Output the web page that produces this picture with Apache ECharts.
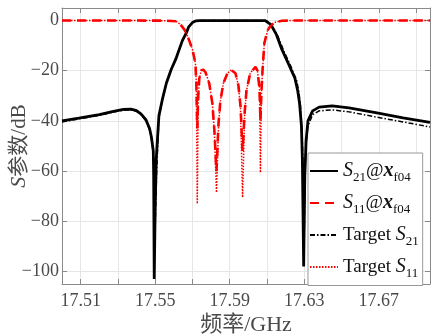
<!DOCTYPE html>
<html><head><meta charset="utf-8">
<script src="https://cdn.jsdelivr.net/npm/echarts@6/dist/echarts.min.js"></script>
<style>html,body{margin:0;padding:0;background:#fff}#c{width:431px;height:336px}</style>
</head><body><div id="c"></div><script>
// ---- tick values ----
const xGridValues = [17.51,17.53,17.55,17.57,17.59,17.61,17.63,17.65,17.67,17.69];
const xLabelValues = [17.51,17.55,17.59,17.63,17.67];
const yTickValues = [-100,-80,-60,-40,-20,0];

// ---- S21 @ x_f04 (solid black) ----
const s21Freq = [17.500,17.509,17.520,17.527,17.533,17.537,17.540,17.5425,17.545,17.547,17.548,17.549,17.5492,17.5495,17.550,17.5506,17.552,17.554,17.556,17.5586,17.561,17.5646,17.567,17.568,17.570,17.572,17.5737,17.590,17.609,17.610,17.612,17.6135,17.615,17.618,17.622,17.625,17.6265,17.6275,17.6285,17.629,17.6297,17.6303,17.631,17.632,17.6345,17.638,17.645,17.654,17.669,17.683,17.6975];
const s21Db   = [-40.0,-38.9,-37.5,-36.3,-35.4,-35.3,-35.9,-37.3,-39.5,-43,-46.5,-52,-62,-103,-75,-55,-38,-31,-25,-19.5,-15.5,-8,-4.5,-2.5,-0.8,-0.1,0,0,0,-0.3,-1.5,-3.5,-5.5,-11.5,-18,-23,-28,-33,-42,-55,-98,-62,-48,-40,-36,-34.5,-34,-34.8,-36.8,-38.8,-40.6];

// ---- S11 @ x_f04 (dashed red) ----
const s11Freq = [17.500,17.540,17.556,17.5613,17.5635,17.5656,17.5667,17.5683,17.570,17.5716,17.5721,17.5726,17.5731,17.5737,17.5748,17.5759,17.577,17.579,17.5807,17.5818,17.5829,17.584,17.585,17.5866,17.5888,17.591,17.5931,17.5947,17.5958,17.5969,17.598,17.599,17.601,17.6038,17.6049,17.606,17.6065,17.607,17.6076,17.6086,17.6103,17.612,17.6146,17.618,17.622,17.6975];
const s11Db   = [0,0,-0.05,-0.3,-1.5,-3.5,-5,-8,-11.5,-17,-25,-43,-30,-23,-19.8,-19.6,-20.6,-25,-33,-44,-60,-41,-32,-25,-21,-19.8,-21,-26,-34,-52,-37,-28,-21,-18.5,-20,-27,-40,-29,-20,-9,-4,-2,-0.6,-0.1,0,0];

// ---- Target S21 (dash-dot black) ----
const t21Freq = [17.500,17.509,17.520,17.527,17.533,17.537,17.540,17.5425,17.545,17.547,17.548,17.549,17.5494,17.5500,17.5508,17.552,17.554,17.556,17.5586,17.561,17.5646,17.567,17.568,17.570,17.572,17.5737,17.590,17.6095,17.611,17.613,17.6145,17.616,17.619,17.623,17.626,17.6272,17.628,17.6288,17.6293,17.6299,17.6305,17.631,17.632,17.6345,17.638,17.645,17.654,17.669,17.683,17.6975];
const t21Db   = [-40.4,-39.2,-37.8,-36.6,-35.7,-35.6,-36.2,-37.6,-39.9,-43.5,-47,-53,-63,-83,-60,-39,-31,-25,-19.5,-15.5,-8,-4.5,-2.5,-0.8,-0.1,0,0,0,-0.6,-2.5,-4.2,-6.5,-12,-18.5,-24,-29,-34,-44,-56,-91,-60,-49,-42,-37.5,-36,-35.6,-36.4,-38.5,-40.4,-42.4];

// ---- Target S11 (dotted red) ----
const t11Freq = [17.500,17.540,17.556,17.5613,17.5635,17.5656,17.5667,17.5683,17.570,17.5716,17.5721,17.5726,17.5731,17.5737,17.5748,17.5759,17.577,17.579,17.5807,17.5818,17.5829,17.584,17.585,17.5866,17.5888,17.591,17.5931,17.5947,17.5958,17.5969,17.598,17.599,17.601,17.6038,17.6049,17.606,17.6065,17.607,17.6076,17.6086,17.6103,17.612,17.6146,17.618,17.622,17.6975];
const t11Db   = [0,0,-0.05,-0.3,-1.5,-3.5,-5,-8,-11.5,-17,-25,-73,-32,-23,-19.6,-19.5,-20.5,-25,-33,-45,-68.5,-42,-32,-25,-21,-19.6,-21,-26,-35,-70.5,-38,-28,-21,-18.3,-20,-27,-60.6,-30,-20,-9,-4,-2,-0.6,-0.1,0,0];

const seriesNames = ['S21', 'S11', 'TS21', 'TS11'];
const legendText = {
  S21: '{it|S}{sub|21}{n|@}{bx|x}{sub|f04}',
  S11: '{it|S}{sub|11}{n|@}{bx|x}{sub|f04}',
  TS21: '{n|Target }{it|S}{sub|21}',
  TS11: '{n|Target }{it|S}{sub|11}'
};

const pair = (fs, ds) => fs.map((f, i) => [f, ds[i]]);
const SERIF = '"Liberation Serif", "Times New Roman", serif';
const AX = '#8a8a8a';
const LBL = '#4a4a4a';

const chart = echarts.init(document.getElementById('c'), null, {renderer: 'canvas'});
const frameAxis = (vals) => ({
  axisLine: {show: true, onZero: false, lineStyle: {color: AX, width: 1}},
  axisTick: {show: true, inside: true, length: 5, customValues: vals, lineStyle: {color: AX}},
  axisLabel: {show: false},
  splitLine: {show: false}
});
chart.setOption({
  animation: false,
  backgroundColor: '#fff',
  grid: {left: 62, right: 1, top: 8, bottom: 52, outerBoundsMode: 'none', containLabel: false},
  xAxis: [{
    type: 'value', min: 17.5, max: 17.6975, position: 'bottom',
    axisLine: {show: true, onZero: false, lineStyle: {color: AX, width: 1}},
    axisTick: {show: true, inside: true, length: 5, customValues: xGridValues, lineStyle: {color: AX}},
    axisLabel: {customValues: xLabelValues, formatter: v => v.toFixed(2), fontFamily: SERIF, fontSize: 18, color: LBL, margin: 8},
    splitLine: {show: true, lineStyle: {color: '#e6e6e6', width: 1}},
    name: '频率/GHz', nameLocation: 'middle', nameGap: 30, nameMoveOverlap: false,
    nameTextStyle: {fontFamily: '"Liberation Serif", "Noto Sans CJK SC", serif', fontSize: 22, color: LBL}
  }, Object.assign({type: 'value', min: 17.5, max: 17.6975, position: 'top'}, frameAxis(xGridValues))],
  yAxis: [{
    type: 'value', min: -105, max: 5, position: 'left',
    axisLine: {show: true, onZero: false, lineStyle: {color: AX, width: 1}},
    axisTick: {show: true, inside: true, length: 5, customValues: yTickValues, lineStyle: {color: AX}},
    axisLabel: {customValues: yTickValues, formatter: v => String(v).replace('-', '\u2212'), fontFamily: SERIF, fontSize: 18, color: LBL, margin: 3},
    splitLine: {show: true, lineStyle: {color: '#e6e6e6', width: 1}},
    name: '{i|S}参数/dB', nameLocation: 'middle', nameGap: 32, nameMoveOverlap: false,
    nameTextStyle: {fontFamily: '"Liberation Serif", "Noto Sans CJK SC", serif', fontSize: 21, color: LBL,
      rich: {i: {fontFamily: SERIF, fontStyle: 'italic', fontSize: 22, color: LBL}}}
  }, Object.assign({type: 'value', min: -105, max: 5, position: 'right'}, frameAxis(yTickValues))],
  legend: {
    orient: 'vertical', left: 308, top: 153,
    backgroundColor: '#fff', borderColor: '#999', borderWidth: 1, borderRadius: 0,
    padding: [8, 4, 5, 1], itemWidth: 28, itemHeight: 12, itemGap: 8.5,
    itemStyle: {opacity: 0},
    data: seriesNames,
    formatter: n => legendText[n],
    textStyle: {
      fontFamily: SERIF, fontSize: 19, color: '#111',
      rich: {
        it: {fontFamily: SERIF, fontStyle: 'italic', fontSize: 20, color: '#111'},
        n: {fontFamily: SERIF, fontSize: 19, color: '#111'},
        bx: {fontFamily: SERIF, fontStyle: 'italic', fontWeight: 'bold', fontSize: 20, color: '#111'},
        sub: {fontFamily: SERIF, fontSize: 13, color: '#111', padding: [14, 0, 0, 0]}
      }
    }
  },
  series: [
    {name: 'S21', type: 'line', data: pair(s21Freq, s21Db), showSymbol: false, symbol: 'none',
     lineStyle: {color: '#000', width: 2.8, type: 'solid'}, itemStyle: {color: '#000'}},
    {name: 'S11', type: 'line', data: pair(s11Freq, s11Db), showSymbol: false, symbol: 'none',
     lineStyle: {color: '#ff0000', width: 2.6, type: [9, 6]}, itemStyle: {color: '#ff0000'}},
    {name: 'TS21', type: 'line', data: pair(t21Freq, t21Db), showSymbol: false, symbol: 'none',
     lineStyle: {color: '#000', width: 1.5, type: [5, 2, 1.5, 2]}, itemStyle: {color: '#000'}},
    {name: 'TS11', type: 'line', data: pair(t11Freq, t11Db), showSymbol: false, symbol: 'none',
     lineStyle: {color: '#ff0000', width: 1.5, type: [1.5, 1.5]}, itemStyle: {color: '#ff0000'}}
  ]
});
</script></body></html>
